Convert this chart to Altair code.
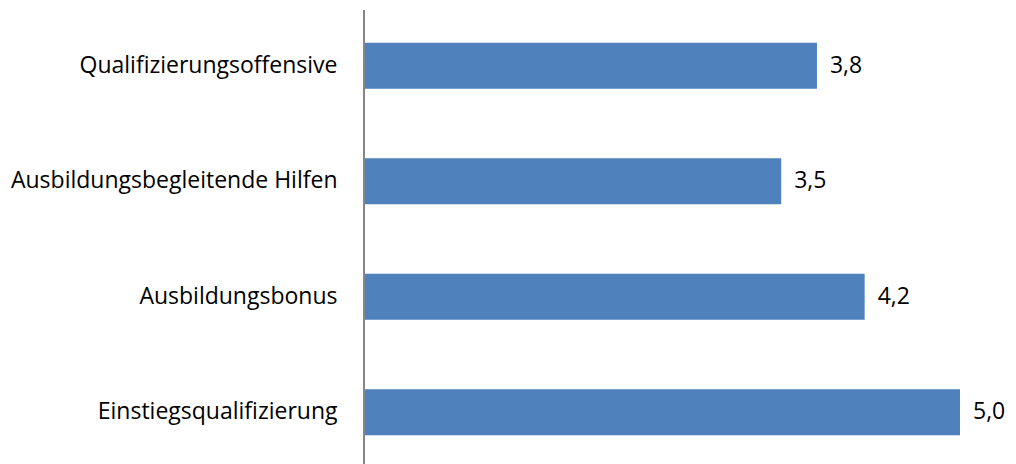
import altair as alt
import pandas as pd

categories = ["Qualifizierungsoffensive", "Ausbildungsbegleitende Hilfen", "Ausbildungsbonus", "Einstiegsqualifizierung"]
values = [3.8, 3.5, 4.2, 5.0]

df = pd.DataFrame({"cat": categories, "v": values})

FONT = "Open Sans"
FS = 23

base = alt.Chart(df).encode(
    y=alt.Y("cat:N", sort=categories,
            scale=alt.Scale(paddingInner=0.6, paddingOuter=0.3),
            axis=alt.Axis(title=None, domain=False, ticks=False, labelFont=FONT,
                          labelFontSize=FS, labelColor="#000000", labelPadding=27,
                          labelLimit=400)),
)

bars = base.mark_bar(color="#4F81BD").encode(
    x=alt.X("v:Q", scale=alt.Scale(domain=[0, 5], nice=False, zero=True), axis=None)
)

text = base.transform_calculate(
    lab="replace(format(datum.v, '.1f'), '.', ',')"
).mark_text(align="left", dx=13, font=FONT, fontSize=FS, color="#000000").encode(
    x=alt.X("v:Q"), text="lab:N"
)

rule = alt.Chart(df).mark_rule(color="#868686", strokeWidth=1.5).encode(
    x=alt.value(0), y=alt.value(2), y2=alt.value(470)
)

chart = alt.layer(bars, text, rule).properties(
    width=596, height=462,
    autosize=alt.AutoSizeParams(type="none"),
    padding={"left": 356, "top": 0, "right": 48, "bottom": 0},
).configure_view(stroke=None)

chart.save("out.html", embed_options={"renderer": "svg", "actions": False})
